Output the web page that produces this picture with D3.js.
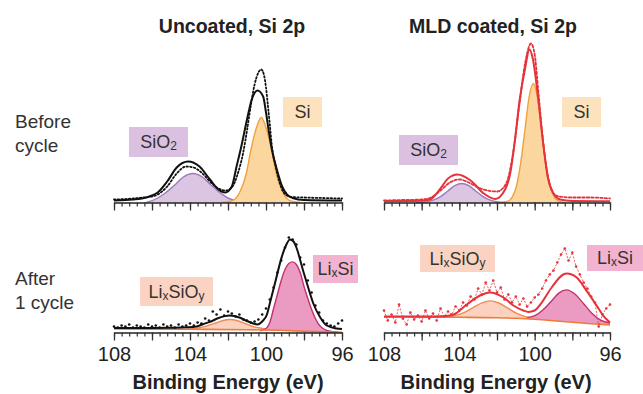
<!DOCTYPE html>
<html>
<head>
<meta charset="utf-8">
<script src="https://cdn.jsdelivr.net/npm/d3@7"></script>
<style>
  body { margin: 0; background: #fff; }
  svg { font-family: "Liberation Sans", Arial, sans-serif; }
</style>
</head>
<body>
<div id="chart"></div>
<script>
// ---- data (binding energy eV, intensity a.u.) ----
const energyTicks = [108, 104, 100, 96];

// Uncoated, before cycle
const tlSiO2 = [[106.3,0],[105.75,4],[105.3,9.5],[104.8,17.5],[104.35,25.5],[103.85,29],[103.35,25.5],[102.9,17.5],[102.4,9.5],[101.95,4],[101.45,1.3],[100.9,0]];
const tlSi = [[102.3,0],[101.9,1],[101.6,4],[101.35,11.5],[101.05,28],[100.8,52],[100.5,75],[100.25,85],[100,75],[99.7,52],[99.45,28],[99.15,11.5],[98.9,4],[98.6,1],[98.2,0]];
const tlFit = [[108,2],[107,3],[106.3,5],[106,7],[105.7,10],[105.2,21],[104.7,35],[104.1,41],[103.5,36],[102.95,23],[102.5,13],[102.15,10],[101.8,16],[101.55,36],[101.3,56],[101.0,83],[100.75,103],[100.45,112],[100.15,106],[100.0,90],[99.85,71],[99.7,54],[99.4,31],[99.15,16],[98.9,8],[98.6,4.5],[98,2.5],[96,2]];
const tlRaw = [[108,3],[107,4],[106.5,5],[106,6],[105.7,8],[105.2,16],[104.7,29],[104.2,36],[103.8,35],[103.4,30],[102.9,20],[102.5,14],[102.1,12],[101.8,15],[101.5,28],[101.2,50],[101.0,72],[100.8,97],[100.6,118],[100.4,130],[100.25,133],[100.1,127],[100.0,115],[99.9,97],[99.8,78],[99.7,58],[99.5,37],[99.3,21],[99.1,11],[98.9,7],[98.6,5.5],[98,5],[97,4.5],[96,4]];

// MLD coated, before cycle
const trSiO2 = [[106.3,0],[105.72,0.8],[105.35,2.6],[104.98,6.2],[104.61,11.5],[104.24,16.8],[103.87,19],[103.5,16.8],[103.13,11.5],[102.76,6.2],[102.39,2.6],[102.02,0.8],[101.6,0]];
const trSi = [[101.8,0],[101.42,1.3],[101.2,5.2],[100.97,16],[100.75,38.6],[100.52,72],[100.3,105],[100.07,119],[99.85,105],[99.62,72],[99.4,38.6],[99.17,16],[98.95,5.2],[98.72,1.3],[98.4,0]];
const trFit = [[108,1.5],[107,1.5],[106,1.8],[105.55,3],[105.0,14],[104.6,24],[104.1,28],[103.4,22],[102.7,9],[102.1,3.5],[101.7,9],[101.3,29],[101.05,62],[100.8,102],[100.5,135],[100.28,153],[100.1,144],[99.8,102],[99.55,59],[99.3,25],[99.0,9],[98.65,3],[98,1.5],[96,1.2]];
const trRaw = [[108,2],[107,2.5],[106,3],[105.5,5],[105,12],[104.5,20],[104,23],[103.5,20],[103,15],[102.5,12],[102,11],[101.7,14],[101.4,25],[101.1,55],[100.8,100],[100.5,140],[100.3,156],[100.2,159],[100,148],[99.8,110],[99.6,70],[99.4,38],[99.2,18],[99,9],[98.7,6],[98,5],[97,5],[96,4]];

// Uncoated, after 1 cycle  ([E, top, bottom])
const blBack = [[108,3.5],[104,3.2],[101,2.8],[99,2],[98,1.2],[97,0.6],[96,0.3]];
const blLiSiO = [[104.2,3.1,3.1],[103.95,3.5,3.1],[103.55,4.5,3.1],[103.15,6.3,3.0],[102.7,9.1,3.0],[102.3,11.8,3.0],[101.9,13,3.0],[101.5,11.8,2.9],[101.1,9,2.9],[100.7,6.1,2.9],[100.25,4.3,2.8],[99.85,3.2,2.8],[99.5,2.7,2.7]];
const blLiSi = [[100.3,1.8,1.8],[100.0,4,1.8],[99.8,10,1.8],[99.6,24,1.8],[99.4,38,1.7],[99.2,52,1.7],[99.0,63,1.6],[98.8,69,1.5],[98.6,70.6,1.4],[98.4,68,1.3],[98.2,60,1.2],[98.0,46,1.1],[97.8,34,1.0],[97.6,23,0.9],[97.4,14,0.8],[97.2,7.5,0.7],[97.0,4,0.6],[96.8,2,0.5],[96.5,0.8,0.4],[96.2,0.3,0.3]];
const blFit = [[108,4.5],[107,4.5],[106,4.6],[105,4.8],[104.2,5.2],[103.65,6],[103.3,8.5],[102.95,10.6],[102.5,14.5],[101.9,17],[101.4,15],[101,11.5],[100.67,9],[100.45,8],[100.2,11],[99.95,18],[99.8,29],[99.53,49],[99.17,75.6],[98.95,87],[98.74,93],[98.55,91],[98.4,85],[98.05,62],[97.78,45],[97.51,29],[97.16,15.6],[96.8,7],[96.28,4],[96,3.5]];
const blRawE = d3.range(108, 95.9, -0.2);
const blRawI = [6,5,7,6,8,5,7,6,5,8,6,7,5,8,6,7,5,8,6,7,9,7,10,9,14,12,21,18,23,17,21,19,16,18,13,12,10,11,13,18,24,33,45,60,72,85,95,93,88,75,68,52,40,27,20,12,9,7,6,9,12];

// MLD coated, after 1 cycle
const brBack = [[108,15.5],[106,15.4],[104,15.2],[102,14.8],[101,14.2],[100,13.2],[99,11.8],[98,10.2],[97,8.8],[96,7.5]];
const brLiSiO = [[105.1,15.5,15.3],[104.6,15.9,15.2],[104.15,17.4,15.1],[103.7,20.4,15.0],[103.25,25.1,15.0],[102.8,29.6,14.9],[102.37,31.6,14.8],[101.9,29.5,14.8],[101.45,24.7,14.6],[101.0,19.6,14.2],[100.55,16.2,13.8],[100.1,14.1,13.3],[99.65,12.9,12.7]];
const brLiSi = [[100.4,14.9,13.5],[99.96,17.1,13.0],[99.55,22.7,12.5],[99.13,31.0,11.8],[98.72,39.4,11.2],[98.3,42.6,10.7],[97.85,38.2,10.0],[97.4,28.8,9.4],[96.95,19.1,8.7],[96.5,12.4,8.2],[96.0,9.5,7.5]];
const brFit = [[108,16],[106,16],[105,16.3],[104.5,17],[104.3,18],[103.6,28],[102.9,37],[102.37,40],[101.66,35],[101.13,27],[100.6,22],[100.33,20.6],[100,22],[99.7,28],[99.1,45],[98.48,58],[98.3,59],[97.77,55],[97.24,41.6],[96.7,26.6],[96.35,16.6],[96,10]];
const brRawE = d3.range(108, 95.9, -0.2);
const brRawI = [22,12,18,10,28,14,8,20,13,17,11,22,14,19,12,24,16,21,18,26,22,30,27,36,33,44,38,50,42,52,40,45,33,38,30,36,28,34,26,30,35,38,44,52,58,62,70,78,84,72,80,66,58,50,44,36,30,6,18,24,28];

// ---- layout ----
const W = 643, H = 394;
const cols = [{ x0: 114, x1: 342 }, { x0: 384, x1: 610 }];
const rows = [{ base: 202.5 }, { base: 332.5 }];

const C = {
  sio2Fill: '#dcc4e3', sio2Line: '#9c7bbb', sio2Box: '#dcc0e1',
  siFill: '#fcd69f', siLine: '#f0a13c', siBox: '#fde3bd',
  lsoFill: '#fbd2bf', lsoLine: '#f08a55', lsoBox: '#fbd3c2',
  lsFill: '#eb9bc2', lsLine: '#c2306f', lsBox: '#f2b3d1',
  back: '#f07a3a', red: '#e5323b', black: '#111'
};

const svg = d3.select('#chart').append('svg')
  .attr('width', W).attr('height', H);

function panel(col, row, cfg) {
  const x = d3.scaleLinear().domain([108, 96]).range([cols[col].x0, cols[col].x1]);
  const y = d3.scaleLinear().domain([0, 160]).range([rows[row].base, rows[row].base - 160]);
  const g = svg.append('g');

  const area = d3.area()
    .x(d => x(d[0]))
    .y0(d => y(d.length > 2 ? d[2] : 0))
    .y1(d => y(d[1]))
    .curve(d3.curveMonotoneX);
  const line = d3.line()
    .x(d => x(d[0])).y(d => y(d[1]))
    .curve(d3.curveMonotoneX);

  // fitted components
  cfg.comps.forEach(c => {
    g.append('path').datum(c.data)
      .attr('fill', c.fill).attr('d', area);
    g.append('path').datum(c.data)
      .attr('fill', 'none').attr('stroke', c.line).attr('stroke-width', 1.4)
      .attr('d', line);
  });

  if (cfg.back) {
    g.append('path').datum(cfg.back)
      .attr('fill', 'none').attr('stroke', C.back).attr('stroke-width', 1.6)
      .attr('d', line);
  }

  // raw data
  if (cfg.rawLine) {
    g.append('path').datum(cfg.rawLine)
      .attr('fill', 'none').attr('stroke', cfg.color).attr('stroke-width', 1.8)
      .attr('stroke-dasharray', cfg.dash || '1.5,2.2')
      .attr('stroke-linecap', 'round')
      .attr('d', line);
  }
  if (cfg.rawDots) {
    const pts = cfg.rawDots.e.map((e, i) => [e, cfg.rawDots.i[i]]);
    if (cfg.rawDots.joined) {
      g.append('path').datum(pts)
        .attr('fill', 'none').attr('stroke', cfg.color).attr('stroke-width', 0.8)
        .attr('stroke-dasharray', '2,1.5')
        .attr('d', d3.line().x(d => x(d[0])).y(d => y(d[1])));
    }
    g.selectAll('.dot').data(pts).join('circle')
      .attr('cx', d => x(d[0])).attr('cy', d => y(d[1]))
      .attr('r', 1.3).attr('fill', cfg.color);
  }

  // envelope
  g.append('path').datum(cfg.fit)
    .attr('fill', 'none').attr('stroke', cfg.color).attr('stroke-width', 2)
    .attr('d', line);

  // axis: long ticks every 2 eV, short every 0.4 eV
  const minor = d3.range(96, 108.01, 0.4).map(v => +v.toFixed(1));
  g.append('g')
    .attr('transform', `translate(0,${rows[row].base})`)
    .call(d3.axisBottom(x).tickValues(minor).tickSize(4).tickSizeOuter(0).tickFormat(''))
    .call(a => a.select('.domain').attr('stroke', '#222').attr('stroke-width', 1.6))
    .call(a => a.selectAll('.tick line').attr('stroke', '#333').attr('stroke-width', 1.2));
  const major = g.append('g')
    .attr('transform', `translate(0,${rows[row].base})`)
    .call(d3.axisBottom(x).tickValues(d3.range(96, 108.01, 2)).tickSize(8).tickSizeOuter(0).tickPadding(6)
      .tickFormat(v => (cfg.labels && energyTicks.includes(v)) ? d3.format('d')(v) : ''));
  major.select('.domain').remove();
  major.selectAll('.tick line').attr('stroke', '#333').attr('stroke-width', 1.3);
  major.selectAll('.tick text').attr('font-size', 20).attr('fill', '#222');

  // label boxes (subscripts sit a little lower)
  cfg.boxes.forEach(b => {
    g.append('rect').attr('x', b.x).attr('y', b.y).attr('width', b.w).attr('height', b.h)
      .attr('fill', b.fill);
    const t = g.append('text')
      .attr('x', b.x + b.w / 2).attr('y', b.y + b.h / 2 + 6)
      .attr('text-anchor', 'middle').attr('font-size', 18).attr('fill', '#333');
    let low = false;
    b.parts.forEach(p => {
      const sub = !!p[1];
      t.append('tspan').text(p[0])
        .attr('font-size', sub ? 12 : 18)
        .attr('dy', sub === low ? 0 : (sub ? 2 : -2));
      low = sub;
    });
  });
}

// ---- panels ----
panel(0, 0, {
  color: C.black, fit: tlFit, rawLine: tlRaw, labels: false,
  comps: [{ data: tlSiO2, fill: C.sio2Fill, line: C.sio2Line },
          { data: tlSi, fill: C.siFill, line: C.siLine }],
  boxes: [{ x: 129, y: 127, w: 59, h: 30, fill: C.sio2Box, parts: [['SiO'], ['2', true]] },
          { x: 283, y: 97, w: 39, h: 30, fill: C.siBox, parts: [['Si']] }]
});
panel(1, 0, {
  color: C.red, fit: trFit, rawLine: trRaw, labels: false, dash: '2.5,2',
  comps: [{ data: trSiO2, fill: C.sio2Fill, line: C.sio2Line },
          { data: trSi, fill: C.siFill, line: C.siLine }],
  boxes: [{ x: 399, y: 135, w: 59, h: 30, fill: C.sio2Box, parts: [['SiO'], ['2', true]] },
          { x: 562, y: 97, w: 39, h: 30, fill: C.siBox, parts: [['Si']] }]
});
panel(0, 1, {
  color: C.black, fit: blFit, back: blBack, labels: true,
  rawDots: { e: blRawE, i: blRawI },
  comps: [{ data: blLiSiO, fill: C.lsoFill, line: C.lsoLine },
          { data: blLiSi, fill: C.lsFill, line: C.lsLine }],
  boxes: [{ x: 140, y: 277, w: 73, h: 29, fill: C.lsoBox, parts: [['Li'], ['x', true], ['SiO'], ['y', true]] },
          { x: 313, y: 255, w: 45, h: 28, fill: C.lsBox, parts: [['Li'], ['x', true], ['Si']] }]
});
panel(1, 1, {
  color: C.red, fit: brFit, back: brBack, labels: true,
  rawDots: { e: brRawE, i: brRawI, joined: true },
  comps: [{ data: brLiSiO, fill: C.lsoFill, line: C.lsoLine },
          { data: brLiSi, fill: C.lsFill, line: C.lsLine }],
  boxes: [{ x: 420, y: 245, w: 75, h: 27, fill: C.lsoBox, parts: [['Li'], ['x', true], ['SiO'], ['y', true]] },
          { x: 587, y: 245, w: 56, h: 26, fill: C.lsBox, parts: [['Li'], ['x', true], ['Si']] }]
});

// ---- titles and row labels ----
const titles = [['Uncoated, Si 2p', 232], ['MLD coated, Si 2p', 493]];
titles.forEach(t => svg.append('text').attr('x', t[1]).attr('y', 33)
  .attr('text-anchor', 'middle').attr('font-size', 19.5).attr('font-weight', 'bold')
  .attr('fill', '#222').text(t[0]));

const xTitles = [228, 496];
xTitles.forEach(cx => svg.append('text').attr('x', cx).attr('y', 389)
  .attr('text-anchor', 'middle').attr('font-size', 20).attr('font-weight', 'bold')
  .attr('fill', '#222').text('Binding Energy (eV)'));

const rowLabels = [['Before', 128], ['cycle', 152], ['After', 285], ['1 cycle', 309]];
rowLabels.forEach(r => svg.append('text').attr('x', 15).attr('y', r[1])
  .attr('font-size', 19).attr('fill', '#333').text(r[0]));
</script>
</body>
</html>
